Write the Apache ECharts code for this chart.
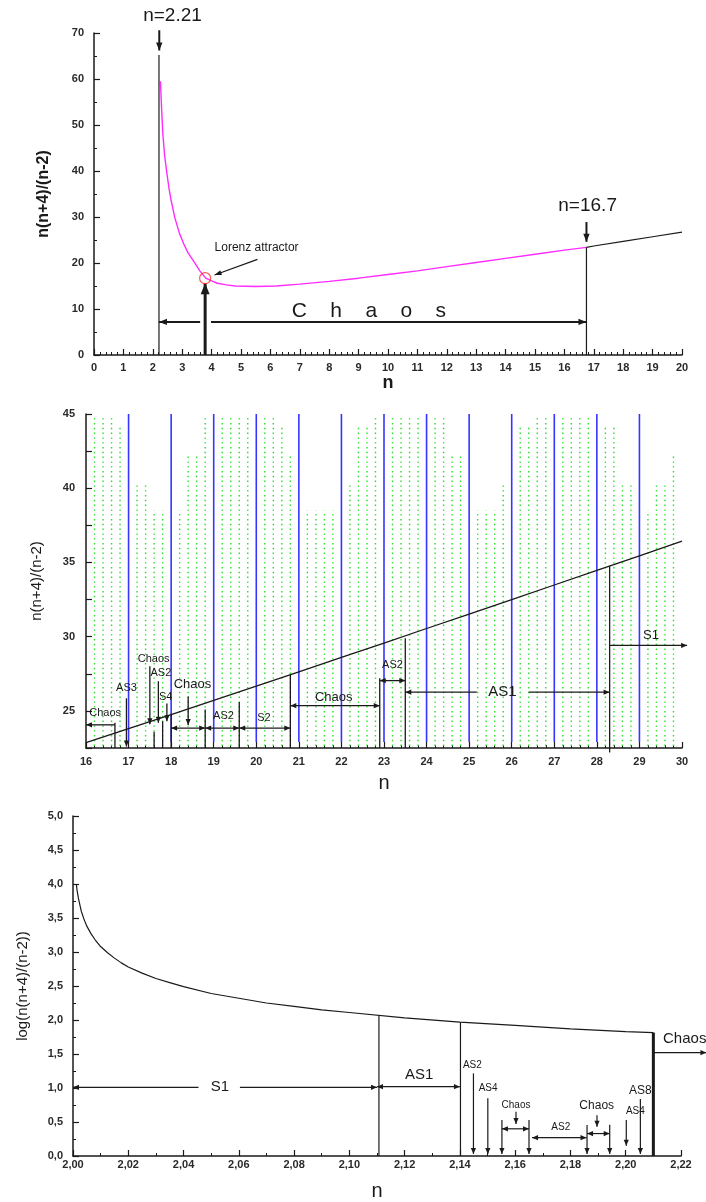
<!DOCTYPE html>
<html>
<head>
<meta charset="utf-8">
<script src="https://cdn.jsdelivr.net/npm/echarts@6/dist/echarts.min.js"></script>
<style>
  html, body { margin: 0; padding: 0; background: #fff; }
  #chart { width: 706px; height: 1202px; }
</style>
</head>
<body>
<div id="chart"></div>
<script>
// ---------- panel 1 : n(n+4)/(n-2) over 0..20 ----------
var chaosN   = [2.26, 2.3, 2.34, 2.4, 2.48, 2.55, 2.62, 2.75, 2.9, 3.05, 3.2, 3.4, 3.6, 3.8, 4.0, 4.2, 4.5, 4.8, 5.5, 6.2, 7, 8, 9, 10, 11, 12, 13, 14, 15, 16, 16.75];
var chaosVal = [59.5, 53.5, 48.2, 43.5, 39.5, 36.3, 33.7, 29.8, 26.6, 24.2, 22.2, 20.3, 18.3, 16.7, 16.1, 15.6, 15.25, 15.0, 14.9, 15.0, 15.4, 16.0, 16.7, 17.5, 18.3, 19.2, 20.1, 21.0, 21.9, 22.8, 23.4];
var tailN    = [16.75, 17, 18, 19, 20];
var tailVal  = [23.4, 23.7, 24.7, 25.7, 26.7];
var lorenzPt = [3.78, 16.7];

// segments: [x1, y1, x2, y2, arrowAtStart, arrowAtEnd]
var p1Thin = [
  [2.21, 0, 2.21, 65.2, 0, 0],
  [16.75, 0, 16.75, 23.4, 0, 0],
  [5.56, 20.8, 4.1, 17.4, 0, 1]
];
var p1Bold = [
  [2.22, 70.6, 2.22, 66.2, 0, 1],
  [16.75, 28.9, 16.75, 24.6, 0, 1],
  [2.21, 7.2, 3.61, 7.2, 1, 0],
  [3.98, 7.2, 16.75, 7.2, 0, 1]
];
var p1Heavy = [
  [3.78, 0, 3.78, 15.6, 0, 1]
];
// texts: [x, y, text]
var p1Big   = [[2.67, 73.8, 'n=2.21'], [16.79, 32.5, 'n=16.7']];
var p1Word  = [[9.35, 9.6, 'C    h    a    o    s']];
var p1Note  = [[4.1, 23.3, 'Lorenz attractor']];

// ---------- panel 2 : n(n+4)/(n-2) over 16..30 ----------
var p2N   = [16, 17, 18, 19, 20, 21, 22, 23, 24, 25, 26, 27, 28, 29, 30];
var p2Val = [22.86, 23.8, 24.75, 25.71, 26.67, 27.63, 28.6, 29.57, 30.55, 31.52, 32.5, 33.48, 34.46, 35.44, 36.43];
var blueN = [17, 18, 19, 20, 21, 22, 23, 24, 25, 26, 27, 28, 29];
var greenN = [16.2, 16.4, 16.6, 16.8, 17.2, 17.4, 17.6, 17.8, 18.2, 18.4, 18.6, 18.8,
              19.2, 19.4, 19.6, 19.8, 20.2, 20.4, 20.6, 20.8, 21.2, 21.4, 21.6, 21.8,
              22.2, 22.4, 22.6, 22.8, 23.2, 23.4, 23.6, 23.8, 24.2, 24.4, 24.6, 24.8,
              25.2, 25.4, 25.6, 25.8, 26.2, 26.4, 26.6, 26.8, 27.2, 27.4, 27.6, 27.8,
              28.2, 28.4, 28.6, 28.8, 29.2, 29.4, 29.6, 29.8];
var greenTop = [44.8, 44.8, 44.8, 44.1, 40.2, 40.2, 38.5, 38.5, 38.5, 42.2, 42.2, 44.8,
                44.8, 44.8, 44.8, 44.8, 44.8, 44.8, 44.1, 42.2, 38.5, 38.5, 38.5, 38.5,
                40.2, 44.1, 44.1, 44.8, 44.8, 44.8, 44.8, 44.8, 44.8, 44.8, 42.2, 42.2,
                38.5, 38.5, 38.5, 40.2, 44.1, 44.1, 44.8, 44.8, 44.8, 44.8, 44.8, 44.8,
                44.1, 44.1, 40.2, 40.2, 38.5, 40.2, 40.2, 42.2];
var p2Lines = [
  [16.0, 24.06, 16.68, 24.06, 1, 0],
  [16.68, 22.5, 16.68, 24.2, 0, 0],
  [16.95, 25.85, 16.95, 22.6, 0, 1],
  [17.5, 28.0, 17.5, 24.1, 0, 1],
  [17.6, 22.5, 17.6, 23.6, 0, 0],
  [17.7, 27.0, 17.7, 24.2, 0, 1],
  [17.8, 22.5, 17.8, 24.3, 0, 0],
  [17.9, 25.5, 17.9, 24.3, 0, 1],
  [18.0, 22.5, 18.0, 24.8, 0, 0],
  [18.4, 25.97, 18.4, 24.05, 0, 1],
  [18.8, 22.5, 18.8, 25.1, 0, 0],
  [19.6, 22.5, 19.6, 25.6, 0, 0],
  [20.8, 22.5, 20.8, 27.44, 0, 0],
  [18.0, 23.84, 18.8, 23.84, 1, 1],
  [18.8, 23.84, 19.6, 23.84, 1, 1],
  [19.6, 23.84, 20.8, 23.84, 1, 1],
  [20.8, 25.35, 22.9, 25.35, 1, 1],
  [22.9, 22.5, 22.9, 27.2, 0, 0],
  [22.9, 27.04, 23.5, 27.04, 1, 1],
  [23.5, 22.5, 23.5, 29.9, 0, 0],
  [23.5, 26.26, 25.18, 26.26, 1, 0],
  [26.4, 26.26, 28.3, 26.26, 0, 1],
  [28.3, 22.2, 28.3, 34.75, 0, 0],
  [28.3, 29.41, 30.12, 29.41, 0, 1]
];
var p2Small = [
  [16.45, 24.87, 'Chaos'], [16.95, 26.55, 'AS3'], [17.59, 28.5, 'Chaos'], [17.76, 27.58, 'AS2'],
  [17.87, 25.96, 'S4'], [19.23, 24.66, 'AS2'], [20.18, 24.55, 'S2'], [23.2, 28.1, 'AS2']
];
var p2Mid   = [[18.5, 26.75, 'Chaos'], [21.82, 25.88, 'Chaos'], [29.27, 30.1, 'S1']];
var p2Large = [[25.78, 26.26, 'AS1']];

// ---------- panel 3 : log(n(n+4)/(n-2)) over 2.00..2.22 ----------
var p3N   = [2.0012, 2.0015, 2.002, 2.003, 2.004, 2.005, 2.0065, 2.008, 2.01, 2.0125, 2.015, 2.0175, 2.02, 2.025,
             2.03, 2.035, 2.04, 2.05, 2.06, 2.07, 2.08, 2.09, 2.10, 2.12, 2.14, 2.16, 2.18, 2.20, 2.21];
var p3Val = [4.0, 3.9, 3.78, 3.6, 3.48, 3.38, 3.27, 3.18, 3.08, 2.99, 2.91, 2.84, 2.78, 2.69,
             2.61, 2.55, 2.49, 2.39, 2.32, 2.25, 2.2, 2.15, 2.11, 2.03, 1.97, 1.92, 1.87, 1.83, 1.815];
var p3Lines = [
  [2.1107, 0, 2.1107, 2.07, 0, 0],
  [2.1402, 0, 2.1402, 1.97, 0, 0],
  [2.0, 1.01, 2.0454, 1.01, 1, 0],
  [2.0604, 1.01, 2.11, 1.01, 0, 1],
  [2.11, 1.02, 2.14, 1.02, 1, 1],
  [2.21, 1.52, 2.2292, 1.52, 0, 1],
  [2.1449, 1.215, 2.1449, 0.03, 0, 1],
  [2.1501, 0.85, 2.1501, 0.03, 0, 1],
  [2.1603, 0.65, 2.1603, 0.47, 0, 1],
  [2.1552, 0.53, 2.1552, 0.03, 0, 1],
  [2.165, 0.53, 2.165, 0.03, 0, 1],
  [2.1552, 0.40, 2.165, 0.40, 1, 1],
  [2.1661, 0.27, 2.1858, 0.27, 1, 1],
  [2.1896, 0.60, 2.1896, 0.43, 0, 1],
  [2.186, 0.455, 2.186, 0.03, 0, 1],
  [2.1942, 0.46, 2.1942, 0.03, 0, 1],
  [2.186, 0.33, 2.1942, 0.33, 1, 1],
  [2.2002, 0.53, 2.2002, 0.15, 0, 1],
  [2.2053, 0.84, 2.2053, 0.03, 0, 1]
];
var p3Heavy = [[2.21, 0, 2.21, 1.815, 0, 0]];
var p3Small = [[2.1445, 1.34, 'AS2'], [2.1502, 1.0, 'AS4'], [2.1603, 0.75, 'Chaos'], [2.1765, 0.42, 'AS2'], [2.2035, 0.66, 'AS4']];
var p3Mid   = [[2.1895, 0.74, 'Chaos'], [2.2053, 0.96, 'AS8']];
var p3Large = [[2.0532, 1.01, 'S1'], [2.1253, 1.19, 'AS1']];
var p3Edge  = [[2.2135, 1.72, 'Chaos']];

var FONT = 'Liberation Sans';
var INK = '#1a1a1a';

function zip(xs, ys) {
  return xs.map(function (x, i) { return [x, ys[i]]; });
}

function arrowHead(from, to, len, half) {
  var dx = to[0] - from[0], dy = to[1] - from[1];
  var d = Math.sqrt(dx * dx + dy * dy) || 1;
  var ux = dx / d, uy = dy / d;
  var bx = to[0] - ux * len, by = to[1] - uy * len;
  return {
    type: 'polygon',
    shape: { points: [[to[0], to[1]], [bx - uy * half, by + ux * half], [bx + uy * half, by - ux * half]] },
    style: { fill: INK }
  };
}

// lines with optional arrow heads, placed through the axes
function segSeries(gi, items, width, len, half) {
  return {
    type: 'custom', xAxisIndex: gi, yAxisIndex: gi, silent: true, clip: false, z: 4,
    data: items,
    renderItem: function (params, api) {
      var a = api.coord([api.value(0), api.value(1)]);
      var b = api.coord([api.value(2), api.value(3)]);
      var kids = [{
        type: 'line',
        shape: { x1: a[0], y1: a[1], x2: b[0], y2: b[1] },
        style: { stroke: INK, lineWidth: width }
      }];
      if (api.value(4)) kids.push(arrowHead(b, a, len, half));
      if (api.value(5)) kids.push(arrowHead(a, b, len, half));
      return { type: 'group', children: kids };
    }
  };
}

function textSeries(gi, items, size, weight, align) {
  return {
    type: 'custom', xAxisIndex: gi, yAxisIndex: gi, silent: true, clip: false, z: 6,
    data: items.map(function (t) { return [t[0], t[1]]; }),
    renderItem: function (params, api) {
      var p = api.coord([api.value(0), api.value(1)]);
      return {
        type: 'text', x: p[0], y: p[1],
        style: {
          text: items[params.dataIndex][2], fill: INK,
          fontSize: size, fontFamily: FONT, fontWeight: weight || 'normal',
          align: align || 'center', verticalAlign: 'middle'
        }
      };
    }
  };
}

function axis(gi, o) {
  return {
    type: 'value', gridIndex: gi, min: o.min, max: o.max, interval: o.interval,
    name: o.name, nameLocation: 'middle', nameGap: o.nameGap,
    nameTextStyle: { color: INK, fontFamily: FONT, fontSize: o.nameSize, fontWeight: o.nameWeight || 'normal' },
    axisLine: { onZero: false, lineStyle: { color: INK, width: 1.5 } },
    axisTick: { inside: true, length: 6, lineStyle: { color: INK, width: 1.2 } },
    minorTick: { show: !!o.minor, splitNumber: o.minor || 2, length: 3, lineStyle: { color: INK, width: 1 } },
    splitLine: { show: false },
    axisLabel: {
      color: '#2a2a2a', fontFamily: FONT, fontWeight: 'bold', fontSize: 11,
      margin: o.margin, formatter: o.fmt, showMinLabel: true, showMaxLabel: true
    }
  };
}

var comma1 = function (v) { return v.toFixed(1).replace('.', ','); };
var comma2 = function (v) { return v.toFixed(2).replace('.', ','); };

var chart = echarts.init(document.getElementById('chart'), null, { renderer: 'canvas' });

chart.setOption({
  animation: false,
  backgroundColor: '#fff',
  grid: [
    { left: 94, top: 33, width: 588, height: 322, outerBoundsMode: 'none' },
    { left: 86, top: 414, width: 596, height: 334, outerBoundsMode: 'none' },
    { left: 73, top: 816, width: 608, height: 340, outerBoundsMode: 'none' }
  ],
  xAxis: [
    axis(0, { min: 0, max: 20, interval: 1, minor: 5, name: 'n', nameGap: 17, nameSize: 18, nameWeight: 'bold', margin: 7 }),
    axis(1, { min: 16, max: 30, interval: 1, minor: 5, name: 'n', nameGap: 25, nameSize: 20, margin: 8 }),
    axis(2, { min: 2, max: 2.22, interval: 0.02, minor: 2, name: 'n', nameGap: 25, nameSize: 20, margin: 3, fmt: comma2 })
  ],
  yAxis: [
    axis(0, { min: 0, max: 70, interval: 10, minor: 2, name: 'n(n+4)/(n-2)', nameGap: 42, nameSize: 16, nameWeight: 'bold', margin: 10 }),
    axis(1, { min: 22.5, max: 45, interval: 2.5, name: 'n(n+4)/(n-2)', nameGap: 42, nameSize: 15, margin: 11,
              fmt: function (v) { return v % 5 === 0 ? String(v) : ''; } }),
    axis(2, { min: 0, max: 5, interval: 0.5, minor: 2, name: 'log(n(n+4)/(n-2))', nameGap: 43, nameSize: 15, margin: 10, fmt: comma1 })
  ],
  series: [
    // panel 1
    { type: 'line', xAxisIndex: 0, yAxisIndex: 0, data: zip(chaosN, chaosVal), showSymbol: false,
      lineStyle: { color: '#ff2bff', width: 1.4 }, z: 3 },
    { type: 'line', xAxisIndex: 0, yAxisIndex: 0, data: zip(tailN, tailVal), showSymbol: false,
      lineStyle: { color: INK, width: 1.2 }, z: 3 },
    { type: 'scatter', xAxisIndex: 0, yAxisIndex: 0, data: [lorenzPt], symbol: 'circle', symbolSize: 11,
      itemStyle: { color: 'rgba(0,0,0,0)', borderColor: '#ff2a2a', borderWidth: 1.2 }, z: 5 },
    segSeries(0, p1Thin, 1.2, 7, 2.5),
    segSeries(0, p1Bold, 2, 8, 3.2),
    segSeries(0, p1Heavy, 3, 11, 4.5),
    textSeries(0, p1Big, 19),
    textSeries(0, p1Word, 21),
    textSeries(0, p1Note, 12, 'normal', 'left'),

    // panel 2
    { type: 'custom', xAxisIndex: 1, yAxisIndex: 1, silent: true, z: 1,
      data: zip(greenN, greenTop),
      renderItem: function (params, api) {
        var a = api.coord([api.value(0), 22.5]);
        var b = api.coord([api.value(0), api.value(1)]);
        return { type: 'line', shape: { x1: a[0], y1: a[1] - 2, x2: b[0], y2: b[1] },
                 style: { stroke: '#1fe01f', lineWidth: 1.4, lineDash: [1.4, 3.4] } };
      } },
    { type: 'custom', xAxisIndex: 1, yAxisIndex: 1, silent: true, z: 2,
      data: blueN.map(function (x) { return [x, 45]; }),
      renderItem: function (params, api) {
        var a = api.coord([api.value(0), 22.5]);
        var b = api.coord([api.value(0), api.value(1)]);
        return { type: 'line', shape: { x1: a[0], y1: a[1] - 6, x2: b[0], y2: b[1] },
                 style: { stroke: '#3535ff', lineWidth: 1.6 } };
      } },
    { type: 'line', xAxisIndex: 1, yAxisIndex: 1, data: zip(p2N, p2Val), showSymbol: false,
      lineStyle: { color: INK, width: 1.3 }, z: 3 },
    segSeries(1, p2Lines, 1.3, 6, 2.6),
    textSeries(1, p2Small, 11),
    textSeries(1, p2Mid, 13),
    textSeries(1, p2Large, 15),

    // panel 3
    { type: 'line', xAxisIndex: 2, yAxisIndex: 2, data: zip(p3N, p3Val), showSymbol: false,
      lineStyle: { color: INK, width: 1.2 }, z: 3 },
    segSeries(2, p3Lines, 1.2, 6, 2.6),
    segSeries(2, p3Heavy, 3, 6, 3),
    textSeries(2, p3Small, 10),
    textSeries(2, p3Mid, 12),
    textSeries(2, p3Large, 15),
    textSeries(2, p3Edge, 15, 'normal', 'left')
  ]
});
</script>
</body>
</html>
